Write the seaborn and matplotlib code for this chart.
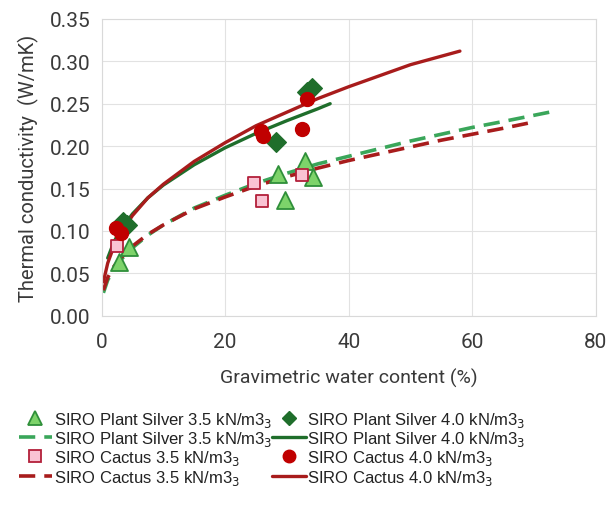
import numpy as np
import pandas as pd
import seaborn as sns
import matplotlib.pyplot as plt

ps35_x = [2.9, 4.5, 28.6, 29.7, 32.9, 34.3]
ps35_y = [0.063, 0.081, 0.167, 0.137, 0.182, 0.163]
ps40_x = [3.5, 4.2, 28.3, 33.2, 34.0]
ps40_y = [0.111, 0.107, 0.205, 0.264, 0.268]
ca35_x = [2.5, 24.6, 25.9, 32.5]
ca35_y = [0.082, 0.157, 0.135, 0.166]
ca40_x = [2.4, 3.1, 25.8, 26.1, 32.5, 33.2]
ca40_y = [0.104, 0.098, 0.218, 0.212, 0.220, 0.255]

# trend lines (sampled off the chart)
ps35_fit_x = [0.3, 1, 2, 3, 5, 7.5, 10, 15, 20, 25, 30, 35, 40, 45, 50, 55, 60, 65, 72.5]
ps35_fit_y = [0.027, 0.042, 0.055, 0.065, 0.080, 0.095, 0.107, 0.127, 0.142, 0.156,
              0.168, 0.179, 0.188, 0.197, 0.206, 0.214, 0.222, 0.229, 0.240]
ca35_fit_x = [0.3, 1, 2, 3, 5, 7.5, 10, 15, 20, 25, 30, 35, 40, 45, 50, 55, 60, 65, 69]
ca35_fit_y = [0.030, 0.045, 0.058, 0.067, 0.082, 0.096, 0.107, 0.126, 0.140, 0.153,
              0.164, 0.174, 0.183, 0.191, 0.199, 0.207, 0.214, 0.221, 0.227]
ps40_fit_x = [1, 2, 3, 5, 7.5, 10, 15, 20, 25, 30, 35, 37]
ps40_fit_y = [0.068, 0.087, 0.100, 0.120, 0.139, 0.154, 0.178, 0.198, 0.215, 0.230, 0.244, 0.250]
ca40_fit_x = [0.3, 1, 2, 3, 5, 7.5, 10, 15, 20, 25, 30, 35, 40, 45, 50, 58]
ca40_fit_y = [0.040, 0.062, 0.082, 0.096, 0.118, 0.139, 0.155, 0.182, 0.204, 0.224,
              0.240, 0.256, 0.270, 0.283, 0.296, 0.312]

labels = [
    "SIRO Plant Silver 3.5 kN/m3$_3$",
    "SIRO Plant Silver 4.0 kN/m3$_3$",
    "SIRO Cactus 3.5 kN/m3$_3$",
    "SIRO Cactus 4.0 kN/m3$_3$",
]

sns.set_style("whitegrid", {"grid.color": "#e2e2e2", "axes.edgecolor": "#d9d9d9"})
plt.rcParams['font.family'] = ['Roboto', 'DejaVu Sans']

fig, ax = plt.subplots(figsize=(6.08, 5.10), dpi=100)
fig.subplots_adjust(left=0.167, right=0.980, top=0.961, bottom=0.379)

green_light = "#3aa65a"
green_dark = "#1f6e2b"
red = "#a81c1c"

def line(x, y, color, ls, lw):
    d = pd.DataFrame({"x": x, "y": y})
    sns.lineplot(data=d, x="x", y="y", color=color, linestyle=ls, linewidth=lw,
                 sort=False, estimator=None, ax=ax, zorder=2)

line(ps35_fit_x, ps35_fit_y, green_light, (0, (4.5, 2.5)), 2.6)
line(ca35_fit_x, ca35_fit_y, red, (0, (4.5, 2.5)), 2.6)
line(ps40_fit_x, ps40_fit_y, green_dark, "-", 2.4)
line(ca40_fit_x, ca40_fit_y, red, "-", 2.4)

sns.scatterplot(x=ps35_x, y=ps35_y, marker="^", s=150, color="#7dd36a",
                edgecolor="#2f8f3a", linewidth=1.3, ax=ax, zorder=3)
sns.scatterplot(x=ca35_x, y=ca35_y, marker="s", s=80, color="#fac3d3",
                edgecolor="#b3203a", linewidth=1.3, ax=ax, zorder=3)
sns.scatterplot(x=ps40_x, y=ps40_y, marker="D", s=100, color=green_dark,
                edgecolor=green_dark, linewidth=1, ax=ax, zorder=3)
sns.scatterplot(x=ca40_x, y=ca40_y, marker="o", s=100, color="#c00000",
                edgecolor="#c00000", linewidth=1, ax=ax, zorder=3)

ax.set_xlim(0, 80)
ax.set_ylim(0, 0.35)
ax.set_xticks([0, 20, 40, 60, 80])
ax.set_yticks(np.arange(0, 0.351, 0.05))
ax.yaxis.set_major_formatter(plt.FormatStrFormatter("%.2f"))
ax.tick_params(axis="both", labelsize=15, colors="#3a3a3a", length=0)
ax.tick_params(axis="x", pad=12)
ax.tick_params(axis="y", pad=8)
ax.set_xlabel("Gravimetric water content (%)", fontsize=14, color="#3a3a3a", labelpad=12)
ax.set_ylabel("Thermal conductivity  (W/mK)", fontsize=14.5, color="#3a3a3a", labelpad=8)

# legend built from proxy artists
h_tri = plt.Line2D([], [], marker="^", ls="none", ms=10, mfc="#7dd36a", mec="#2f8f3a", mew=1.3)
h_sq = plt.Line2D([], [], marker="s", ls="none", ms=8, mfc="#fac3d3", mec="#b3203a", mew=1.3)
h_dia = plt.Line2D([], [], marker="D", ls="none", ms=7, mfc=green_dark, mec=green_dark)
h_cir = plt.Line2D([], [], marker="o", ls="none", ms=9, mfc="#c00000", mec="#c00000")
h_gd = plt.Line2D([], [], color=green_light, ls=(0, (4.5, 2.5)), lw=2.6)
h_rd = plt.Line2D([], [], color=red, ls=(0, (4.5, 2.5)), lw=2.6)
h_gs = plt.Line2D([], [], color=green_dark, lw=2.4)
h_rs = plt.Line2D([], [], color=red, lw=2.4)

handles = [h_tri, h_gd, h_sq, h_rd, h_dia, h_gs, h_cir, h_rs]
leg_labels = [labels[0], labels[0], labels[2], labels[2],
              labels[1], labels[1], labels[3], labels[3]]
fig.legend(handles, leg_labels, ncol=2, loc="upper left", bbox_to_anchor=(0.02, 0.208),
           frameon=False, prop={"family": ["Liberation Sans", "DejaVu Sans"], "size": 12},
           handlelength=2.0, handletextpad=0.1,
           columnspacing=0.0, labelspacing=0.02, borderaxespad=0, labelcolor="#222222")

plt.savefig("out.png", dpi=100)
